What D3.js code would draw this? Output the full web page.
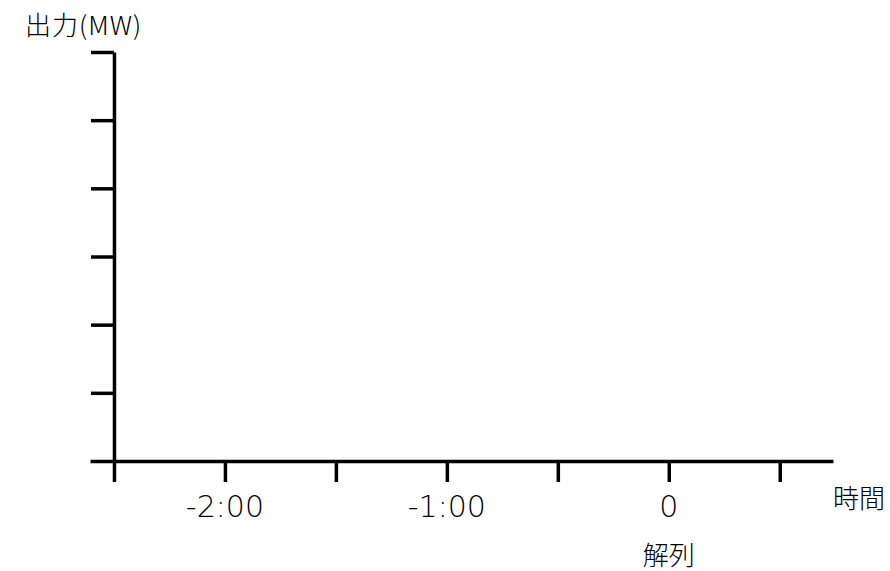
<!DOCTYPE html>
<html lang="ja">
<head>
  <meta charset="UTF-8">
  <title>出力と時間</title>
  <style>
    body { margin: 0; background: #fff; }
    svg text { fill: #000; }
    .jp { font-family: "Noto Sans CJK JP", sans-serif; font-weight: 300; }
    .num { font-family: "DejaVu Sans", sans-serif; font-weight: 200; }
  </style>
  <script src="https://d3js.org/d3.v7.min.js"></script>
</head>
<body>
<svg id="chart" width="890" height="571"></svg>
<script>
  // time ticks in hours relative to 解列 (disconnection)
  const xTicks = [-2.5, -2, -1.5, -1, -0.5, 0, 0.5];
  const xLabelValues = [-2, -1, 0];
  const xLabelText = ['-2:00', '-1:00', '0'];
  // output axis ticks (no values shown)
  const yTicks = [0, 1, 2, 3, 4, 5, 6];
  const yTitle = '出力(MW)';
  const xTitle = '時間';
  const eventLabel = '解列';

  const svg = d3.select('#chart');
  const x = d3.scaleLinear().domain([-2.608, 0.74]).range([90, 833]);
  const y = d3.scaleLinear().domain([0, 6]).range([461, 52]);

  // x axis, ticks pointing down
  const gx = svg.append('g')
    .attr('transform', `translate(0,${y(0)})`)
    .call(d3.axisBottom(x).tickValues(xTicks).tickSize(21).tickSizeOuter(0).tickFormat(''));
  gx.select('.domain').attr('stroke-width', 3.5);
  gx.selectAll('.tick line').attr('stroke-width', 3.5);

  // y axis, no labels
  const gy = svg.append('g')
    .attr('transform', `translate(${x(-2.5)},0)`)
    .call(d3.axisLeft(y).tickValues(yTicks.slice(1)).tickSize(23).tickSizeOuter(0).tickFormat(''));
  gy.select('.domain').attr('stroke-width', 3.5);
  gy.selectAll('.tick line').attr('stroke-width', 3.5);

  // time labels
  svg.selectAll('text.xl').data(xLabelValues).join('text')
    .attr('class', 'xl num')
    .attr('x', d => x(d))
    .attr('y', 517)
    .attr('text-anchor', 'middle')
    .attr('font-size', 30)
    .text((d, i) => xLabelText[i]);

  svg.append('text').attr('class', 'jp')
    .attr('x', 25).attr('y', 35)
    .attr('font-size', 26)
    .attr('letter-spacing', 1)
    .text(yTitle);

  svg.append('text').attr('class', 'jp')
    .attr('x', 833).attr('y', 508)
    .attr('font-size', 26)
    .text(xTitle);

  svg.append('text').attr('class', 'jp')
    .attr('x', x(0)).attr('y', 565)
    .attr('text-anchor', 'middle')
    .attr('font-size', 26)
    .text(eventLabel);
</script>
</body>
</html>
